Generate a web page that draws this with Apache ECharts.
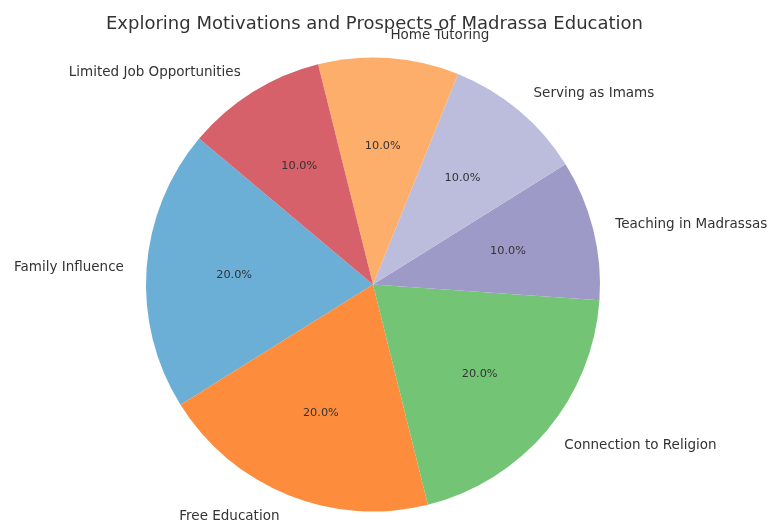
<!DOCTYPE html>
<html>
<head>
<meta charset="utf-8">
<script src="https://cdn.jsdelivr.net/npm/echarts@6/dist/echarts.min.js"></script>
<style>html,body{margin:0;padding:0;background:#fff;}#chart{width:769px;height:522px;}</style>
</head>
<body>
<div id="chart"></div>
<script>
const categories = ["Family Influence", "Free Education", "Connection to Religion", "Teaching in Madrassas", "Serving as Imams", "Home Tutoring", "Limited Job Opportunities"];
const values = [20, 20, 20, 10, 10, 10, 10];
const colors = ["#6baed6", "#fd8d3c", "#74c476", "#9e9ac8", "#bcbddc", "#fdae6b", "#d6616b"];
const titleText = "Exploring Motivations and Prospects of Madrassa Education";

const R = 227;
const total = values.reduce((a, b) => a + b, 0);
const data = categories.map((c, i) => ({ name: c, value: values[i], itemStyle: { color: colors[i] } }));
const font = "DejaVu Sans";

const chart = echarts.init(document.getElementById('chart'));
chart.setOption({
  animation: false,
  backgroundColor: '#fff',
  title: {
    text: titleText,
    left: 101,
    top: 10,
    textStyle: { fontFamily: font, fontSize: 18, fontWeight: 'normal', color: '#333' }
  },
  series: [
    {
      type: 'pie',
      center: [373, 284.5],
      radius: [0, R],
      startAngle: 140,
      clockwise: false,
      avoidLabelOverlap: false,
      data: data,
      label: {
        show: true,
        position: 'outside',
        formatter: '{b}',
        fontFamily: font,
        fontSize: 13.5,
        color: '#333',
        distanceToLabelLine: 0
      },
      labelLine: { show: false, length: R * 0.1, length2: 0 },
      itemStyle: { borderWidth: 0 },
      emphasis: { disabled: true }
    },
    {
      type: 'pie',
      center: [373, 284.5],
      radius: [0, R * 1.2],
      startAngle: 140,
      clockwise: false,
      avoidLabelOverlap: false,
      silent: true,
      z: 3,
      data: categories.map((c, i) => ({ name: c, value: values[i] })),
      itemStyle: { color: 'rgba(0,0,0,0)', borderWidth: 0 },
      label: {
        show: true,
        position: 'inside',
        formatter: p => (p.value / total * 100).toFixed(1) + '%',
        fontFamily: font,
        fontSize: 11.3,
        color: '#333'
      },
      labelLine: { show: false },
      emphasis: { disabled: true }
    }
  ]
});
</script>
</body>
</html>
